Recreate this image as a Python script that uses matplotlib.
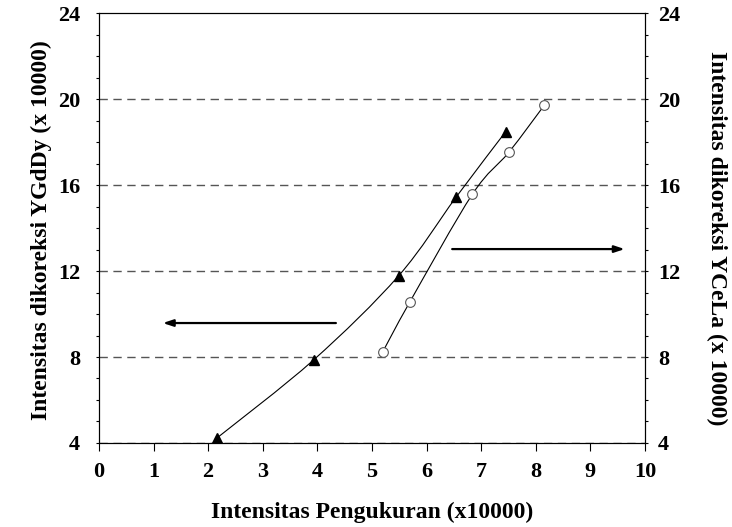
"""Measured vs corrected intensity for the YGdDy and YCeLa samples."""
import matplotlib

matplotlib.use("Agg")
import matplotlib.pyplot as plt
from matplotlib.path import Path
from matplotlib.patches import PathPatch
from matplotlib.ticker import MultipleLocator

plt.rcParams["font.family"] = ["Liberation Serif", "DejaVu Serif"]
plt.rcParams["font.weight"] = "bold"

# YGdDy, read against the left axis
ygd_x = [2.17, 3.93, 5.49, 6.54, 7.45]
ygd_y = [4.25, 7.86, 11.78, 15.43, 18.48]

# YCeLa, read against the right axis
yce_x = [5.20, 5.69, 6.84, 7.51, 8.16]
yce_y = [8.25, 10.54, 15.57, 17.53, 19.72]

grid_levels = [4, 8, 12, 16, 20]

XLABEL = "Intensitas Pengukuran (x10000)"
YLABEL_L = "Intensitas dikoreksi YGdDy (x 10000)"
YLABEL_R = "Intensitas dikoreksi YCeLa (x 10000)"


def smooth_path(xs, ys, tension=1 / 6):
    """Catmull-Rom style Bezier path through the points."""
    pts = list(zip(xs, ys))
    verts = [pts[0]]
    codes = [Path.MOVETO]
    n = len(pts)
    for i in range(n - 1):
        p0 = pts[i - 1] if i > 0 else pts[i]
        p1, p2 = pts[i], pts[i + 1]
        p3 = pts[i + 2] if i + 2 < n else pts[i + 1]
        c1 = (p1[0] + (p2[0] - p0[0]) * tension, p1[1] + (p2[1] - p0[1]) * tension)
        c2 = (p2[0] - (p3[0] - p1[0]) * tension, p2[1] - (p3[1] - p1[1]) * tension)
        verts += [c1, c2, p2]
        codes += [Path.CURVE4] * 3
    return Path(verts, codes)


fig = plt.figure(figsize=(7.32, 5.27), dpi=100)
ax = fig.add_axes([0.1352, 0.1594, 0.7458, 0.8159])
ax2 = ax.twinx()

for a in (ax, ax2):
    a.set_xlim(0, 10)
    a.set_ylim(4, 24)
    a.yaxis.set_major_locator(MultipleLocator(4))
    a.yaxis.set_minor_locator(MultipleLocator(1))
    a.tick_params(axis="y", which="both", direction="out", length=2.5, width=0.8,
                  labelsize=16)
ax.tick_params(axis="y", which="major", pad=11)
ax2.tick_params(axis="y", which="major", pad=7)
ax.xaxis.set_major_locator(MultipleLocator(1))
ax.tick_params(axis="x", which="major", direction="out", length=6, width=0.8,
               labelsize=16, pad=8)
for lbl in ax.get_xticklabels() + ax.get_yticklabels() + ax2.get_yticklabels():
    lbl.set_fontweight("bold")

for lev in grid_levels:
    ax.axhline(lev, color="#555555", lw=1.0, ls=(0, (6, 4)), zorder=1)

ax.add_patch(PathPatch(smooth_path(ygd_x, ygd_y), fc="none", ec="black", lw=0.8, zorder=2))
ax.plot(ygd_x, ygd_y, ls="none", marker="^", ms=7.5, color="black", zorder=3)

ax2.add_patch(PathPatch(smooth_path(yce_x, yce_y), fc="none", ec="black", lw=0.8, zorder=2))
ax2.plot(yce_x, yce_y, ls="none", marker="o", ms=7, mfc="white", mec="#555555",
         mew=0.8, zorder=3)

arrow = dict(arrowstyle="-|>,head_length=0.6,head_width=0.2", color="black", lw=1.6,
             shrinkA=0, shrinkB=0)
ax.annotate("", xy=(1.17, 9.58), xytext=(4.34, 9.58), arrowprops=arrow)
ax.annotate("", xy=(9.63, 13.02), xytext=(6.47, 13.02), arrowprops=arrow)

# axis titles placed by their baselines
fig.text(0.5082, 0.0171, XLABEL, fontsize=17, fontweight="bold",
         ha="center", va="baseline")
fig.text(0.0642, 0.5636, YLABEL_L, fontsize=17, fontweight="bold", rotation=90,
         rotation_mode="anchor", ha="center", va="baseline")
fig.text(0.9713, 0.548, YLABEL_R, fontsize=17, fontweight="bold", rotation=270,
         rotation_mode="anchor", ha="center", va="baseline")

fig.savefig("out.png", dpi=100)
